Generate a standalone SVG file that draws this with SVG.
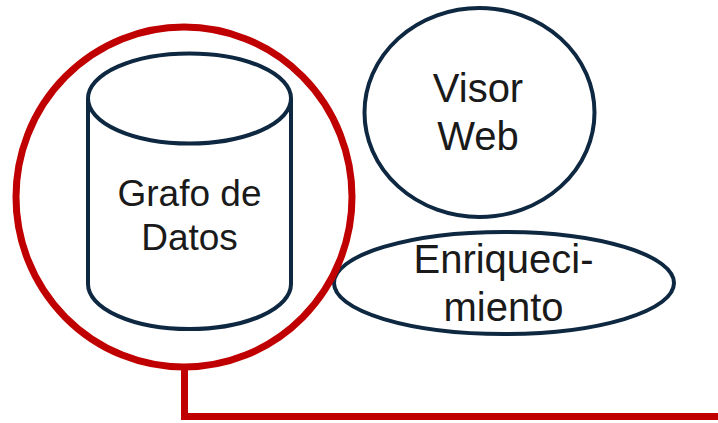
<svg xmlns="http://www.w3.org/2000/svg" width="718" height="423" viewBox="0 0 718 423">
<style>
.node{fill:#FFFFFF;stroke:#0E2841;stroke-width:4}
.lbl{font-family:"Liberation Sans",Arial,sans-serif;font-size:40px;fill:#1A1A1A;text-anchor:middle}
.hl{fill:none;stroke:#C00000;stroke-width:7}
</style>
<rect x="0" y="0" width="718" height="423" fill="#FFFFFF"/>
<g id="grafo-de-datos">
<path class="node" d="M88,98.5 L88,284 A101.5,45 0 0 0 291,284 L291,98.5"/>
<ellipse class="node" cx="189.5" cy="98.5" rx="101.5" ry="45"/>
<text class="lbl" x="189.5" y="206" style="font-size:37px">Grafo de</text>
<text class="lbl" x="189.5" y="250" style="font-size:37px">Datos</text>
</g>
<g id="visor-web">
<ellipse class="node" cx="479.5" cy="112.5" rx="115" ry="104.5"/>
<text class="lbl" x="478" y="102">Visor</text>
<text class="lbl" x="478" y="150">Web</text>
</g>
<g id="enriquecimiento">
<ellipse class="node" cx="504" cy="283" rx="170" ry="51"/>
<text class="lbl" x="503.5" y="273">Enriqueci-</text>
<text class="lbl" x="503.5" y="321">miento</text>
</g>
<g id="connectors">
<ellipse class="hl" cx="184" cy="197" rx="168" ry="170"/>
<path class="hl" d="M184.5,367 V416.5 H718"/>
</g>
</svg>
